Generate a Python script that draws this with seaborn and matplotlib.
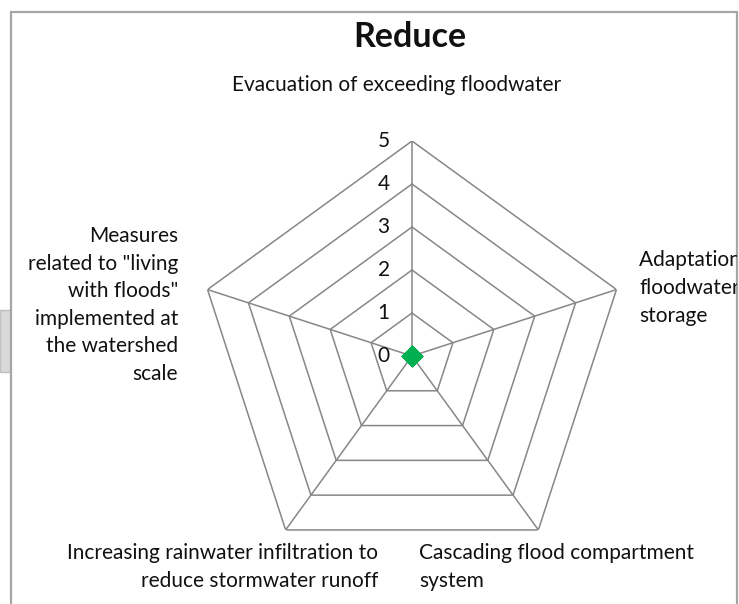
import numpy as np
import matplotlib
matplotlib.use("Agg")
import matplotlib.pyplot as plt
from matplotlib.patches import Rectangle
from matplotlib.transforms import Bbox
import seaborn as sns

# chart data
categories = [
    "Evacuation of exceeding floodwater",
    "Adaptation of\nfloodwater\nstorage",
    "Cascading flood compartment\nsystem",
    "Increasing rainwater infiltration to\nreduce stormwater runoff",
    "Measures\nrelated to \"living\nwith floods\"\nimplemented at\nthe watershed\nscale",
]
values = [0, 0, 0, 0, 0]
levels = [0, 1, 2, 3, 4, 5]
title = "Reduce"

sns.set_style("white")
plt.rcParams['font.family'] = ['Lato', 'DejaVu Sans']
plt.rcParams['text.color'] = "#111111"

W, H = 739, 604
fig = plt.figure(figsize=(W / 100, H / 100), dpi=100)

def fx(x):
    return x / W

def fy(y):
    return 1 - y / H

# outer chart frame and the grey tab on the left
fig.patches.append(Rectangle((0, fy(372)), fx(11), (372 - 310) / H, transform=fig.transFigure,
                             facecolor="#d9d9d9", edgecolor="#bfbfbf", lw=1, zorder=-2))
fig.patches.append(Rectangle((fx(11), -0.1), fx(737) - fx(11), fy(12) + 0.1, transform=fig.transFigure,
                             facecolor="white", edgecolor="#a6a6a6", lw=1.6, zorder=-1))

# polar axes centred at (412, 356) px with radius 215 px
cx, cy, R = 412, 356, 215
ax = fig.add_axes([fx(cx - R), fy(cy + R), 2 * R / W, 2 * R / H], projection="polar")
ax.set_theta_offset(np.pi / 2)
ax.set_theta_direction(-1)
ax.set_ylim(0, 5)
ax.grid(False)
ax.spines["polar"].set_visible(False)
ax.set_xticks([])
ax.set_yticks([])
ax.patch.set_alpha(0)

n = len(categories)
angles = np.linspace(0, 2 * np.pi, n, endpoint=False)
closed = np.append(angles, angles[0])

grid_col = "#878787"
for lv in levels[1:]:
    ax.plot(closed, [lv] * (n + 1), color=grid_col, lw=1.1, zorder=2)
for a in angles:
    ax.plot([a, a], [0, levels[-1]], color=grid_col, lw=1.1, zorder=2)

# ring labels beside the top spoke
for lv in levels:
    ax.annotate(str(lv), xy=(0, lv), xytext=(-16, 0), textcoords="offset points",
                ha="right", va="center", fontsize=15, color="#111111")

# data series
vals = np.append(values, values[0])
ax.plot(closed, vals, color="#00b050", lw=2, zorder=3)
sns.scatterplot(x=angles, y=values, ax=ax, marker="D", s=110, color="#00b050",
                edgecolor="#00b050", zorder=4, legend=False)

# title and category labels
fig.text(fx(410), fy(37), title, ha="center", va="center", fontsize=24.5, fontweight="bold")
fs = 15
ls = 1.47
fig.text(fx(397), fy(85), categories[0], ha="center", va="center", fontsize=fs)
t = fig.text(fx(639), fy(288), categories[1], ha="left", va="center", fontsize=fs,
             linespacing=ls, multialignment="left")
t.set_clip_box(Bbox([[0, 0], [737, H]]))
t.set_clip_on(True)
fig.text(fx(419), fy(567), categories[2], ha="left", va="center", fontsize=fs,
         linespacing=ls, multialignment="left")
fig.text(fx(378), fy(567), categories[3], ha="right", va="center", fontsize=fs,
         linespacing=ls, multialignment="right")
fig.text(fx(178), fy(305), categories[4], ha="right", va="center", fontsize=fs,
         linespacing=ls, multialignment="right")

fig.savefig("out.png", dpi=100)
